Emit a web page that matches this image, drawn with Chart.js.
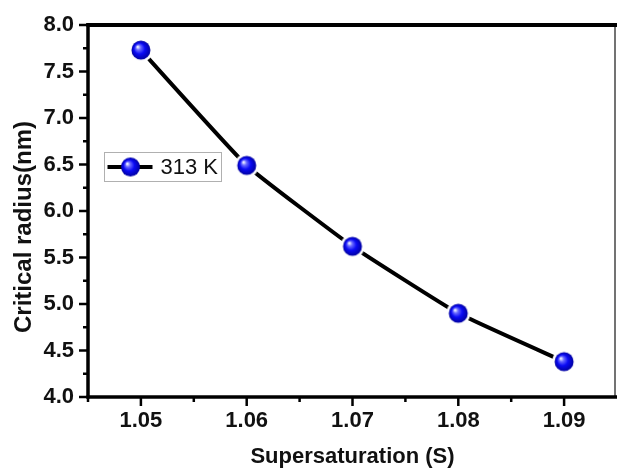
<!DOCTYPE html>
<html>
<head>
<meta charset="utf-8">
<script src="https://cdn.jsdelivr.net/npm/chart.js@4/dist/chart.umd.min.js"></script>
<style>
  html, body { margin: 0; padding: 0; background: #fff; overflow: hidden; }
  #wrap { width: 617px; height: 470px; }
  canvas { display: block; }
</style>
</head>
<body>
<div id="wrap"><canvas id="c" width="617" height="470"></canvas></div>
<script>
// ---- data ----
const supersaturation = [1.05, 1.06, 1.07, 1.08, 1.09];
const criticalRadius  = [7.73, 6.49, 5.62, 4.90, 4.38];
const seriesLabel = '313 K';
const xMajorTicks = [1.05, 1.06, 1.07, 1.08, 1.09];
const yMajorTicks = [4.0, 4.5, 5.0, 5.5, 6.0, 6.5, 7.0, 7.5, 8.0];
const xTitle = 'Supersaturation (S)';
const yTitle = 'Critical radius(nm)';

const FONT = '"Liberation Sans", Arial, sans-serif';

// sphere marker image
function makeSphere(r, gap) {
  const size = Math.ceil((r + gap) * 2) + 2;
  const cv = document.createElement('canvas');
  cv.width = size; cv.height = size;
  const c = cv.getContext('2d');
  const cx = size / 2, cy = size / 2;
  if (gap > 0) {
    c.beginPath(); c.arc(cx, cy, r + gap, 0, Math.PI * 2);
    c.fillStyle = '#ffffff'; c.fill();
  }
  const g = c.createRadialGradient(cx - r * 0.35, cy - r * 0.35, 0.5, cx, cy, r);
  g.addColorStop(0, '#f0f4ff');
  g.addColorStop(0.22, '#6a6aff');
  g.addColorStop(0.55, '#0a0af5');
  g.addColorStop(1, '#0000a0');
  c.beginPath(); c.arc(cx, cy, r, 0, Math.PI * 2);
  c.fillStyle = g; c.fill();
  return cv;
}
const sphere = makeSphere(9.5, 2.5);
const sphereLegend = makeSphere(9.5, 0);

const framePlugin = {
  id: 'frame',
  afterDatasetsDraw(chart) {
    const {ctx, chartArea: a, scales} = chart;
    const xs = scales.x, ys = scales.y;
    ctx.save();
    ctx.lineCap = 'butt';
    // ticks
    ctx.strokeStyle = '#000';
    ctx.lineWidth = 2.5;
    for (let i = 0; i <= 16; i++) {
      const v = ys.min + i * 0.25;
      const major = yMajorTicks.some(t => Math.abs(t - v) < 1e-6);
      const py = ys.getPixelForValue(v);
      ctx.beginPath();
      ctx.moveTo(a.left, py);
      ctx.lineTo(a.left - (major ? 9 : 5), py);
      ctx.stroke();
    }
    for (let i = 0; i < 10; i++) {
      const v = xs.min + i * 0.005;
      const major = xMajorTicks.some(t => Math.abs(t - v) < 1e-6);
      const px = xs.getPixelForValue(v);
      ctx.beginPath();
      ctx.moveTo(px, a.bottom);
      ctx.lineTo(px, a.bottom + (major ? 9 : 5));
      ctx.stroke();
    }
    // right thin border
    ctx.strokeStyle = '#444';
    ctx.lineWidth = 1.5;
    ctx.beginPath(); ctx.moveTo(a.right - 2, a.top); ctx.lineTo(a.right - 2, a.bottom); ctx.stroke();
    // axes
    ctx.strokeStyle = '#000';
    ctx.lineWidth = 3.5;
    ctx.beginPath(); ctx.moveTo(a.left, a.top - 2); ctx.lineTo(a.left, a.bottom + 1.5); ctx.stroke();
    ctx.beginPath(); ctx.moveTo(a.left - 1.5, a.bottom); ctx.lineTo(a.right, a.bottom); ctx.stroke();
    ctx.lineWidth = 4;
    ctx.beginPath(); ctx.moveTo(a.left - 1.5, a.top); ctx.lineTo(a.right, a.top); ctx.stroke();

    // y axis title
    ctx.save();
    ctx.translate(24, (a.top + a.bottom) / 2 + 16);
    ctx.rotate(-Math.PI / 2);
    ctx.fillStyle = '#111';
    ctx.font = 'bold 24px ' + FONT;
    ctx.textAlign = 'center';
    ctx.textBaseline = 'middle';
    ctx.fillText(yTitle, 0, 0);
    ctx.restore();

    // legend
    const lx = a.left + 16.5, ly = a.top + 127.5, lw = 117, lh = 29;
    ctx.fillStyle = '#fff';
    ctx.fillRect(lx, ly, lw, lh);
    ctx.strokeStyle = '#b0b0b0';
    ctx.lineWidth = 1;
    ctx.strokeRect(lx, ly, lw, lh);
    const my = ly + lh / 2;
    ctx.strokeStyle = '#000';
    ctx.lineWidth = 4;
    ctx.beginPath(); ctx.moveTo(lx + 3, my); ctx.lineTo(lx + 48, my); ctx.stroke();
    ctx.drawImage(sphereLegend, lx + 26 - sphereLegend.width / 2, my - sphereLegend.height / 2);
    ctx.fillStyle = '#111';
    ctx.font = '22px ' + FONT;
    ctx.textBaseline = 'middle';
    ctx.textAlign = 'left';
    ctx.fillText(chart.data.datasets[0].label, lx + 56, my + 1);
    ctx.restore();
  }
};

new Chart(document.getElementById('c'), {
  type: 'line',
  data: {
    datasets: [{
      label: seriesLabel,
      data: supersaturation.map((x, i) => ({x, y: criticalRadius[i]})),
      borderColor: '#000',
      borderWidth: 4,
      tension: 0.12,
      pointStyle: sphere,
      pointRadius: 10,
      pointHoverRadius: 10,
      fill: false,
      clip: false
    }]
  },
  options: {
    responsive: false,
    animation: false,
    events: [],
    layout: { autoPadding: false, padding: { top: 25, right: 0, left: 0, bottom: 0 } },
    plugins: { legend: { display: false }, tooltip: { enabled: false } },
    scales: {
      x: {
        type: 'linear',
        min: 1.045, max: 1.095,
        grid: { display: false, drawTicks: false },
        border: { display: false },
        ticks: {
          stepSize: 0.005,
          autoSkip: false,
          maxRotation: 0,
          padding: 11,
          color: '#111',
          font: { family: FONT, size: 22, weight: 'bold' },
          callback: (v) => {
            const m = xMajorTicks.find(t => Math.abs(t - v) < 1e-6);
            return m !== undefined ? m.toFixed(2) : '';
          }
        },
        title: {
          display: true, text: xTitle, color: '#111',
          font: { family: FONT, size: 22, weight: 'bold' },
          padding: { top: -2, bottom: 0 }
        },
        afterFit: (s) => { s.height = 73; s.paddingLeft = 0; s.paddingRight = 0; }
      },
      y: {
        min: 4, max: 8,
        grid: { display: false, drawTicks: false },
        border: { display: false },
        ticks: {
          stepSize: 0.25,
          autoSkip: false,
          padding: 14,
          color: '#111',
          font: { family: FONT, size: 22, weight: 'bold' },
          callback: (v) => {
            const m = yMajorTicks.find(t => Math.abs(t - v) < 1e-6);
            return m !== undefined ? m.toFixed(1) : '';
          }
        },
        title: { display: false, text: yTitle },
        afterFit: (s) => { s.width = 88; s.paddingTop = 0; s.paddingBottom = 0; }
      }
    }
  },
  plugins: [framePlugin]
});
</script>
</body>
</html>
